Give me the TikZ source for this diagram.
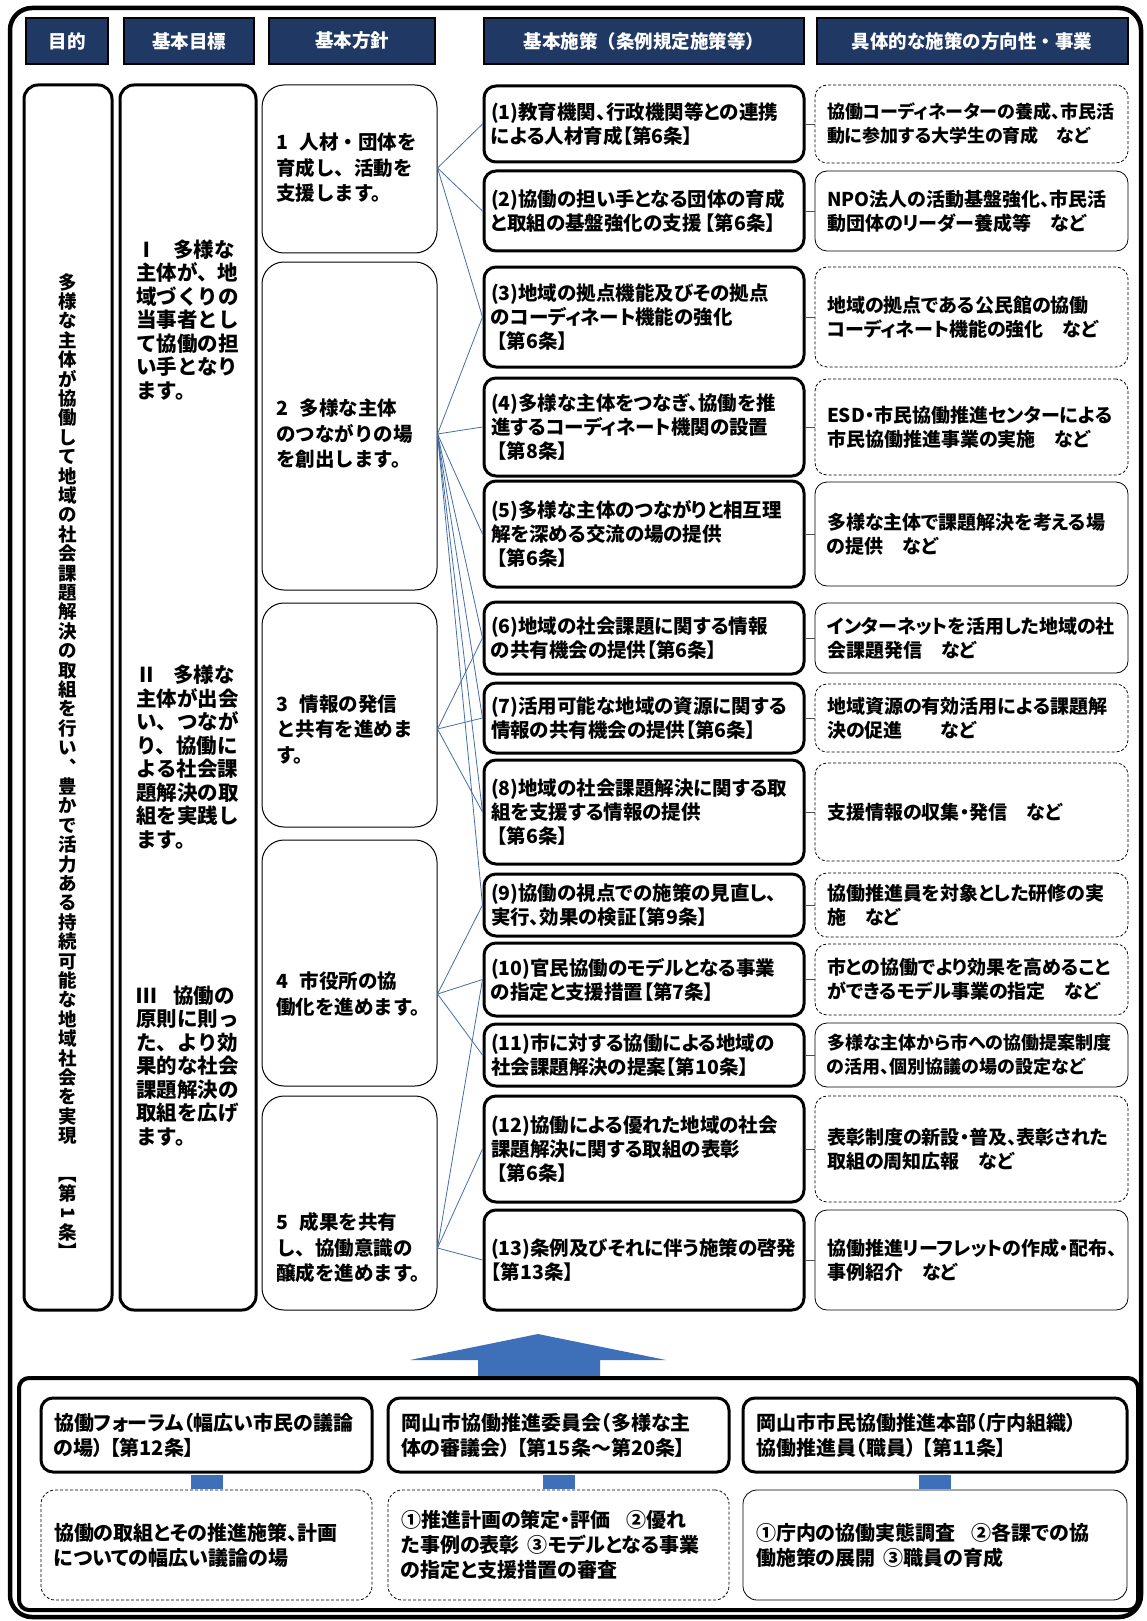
\documentclass[tikz,border=0pt]{standalone}
\usepackage{fontspec}
\setmainfont{Noto Sans CJK JP}[RawFeature=+palt]
\newfontfamily\fullwidth{Noto Sans CJK JP}
\usepackage{graphicx}
\definecolor{navy}{RGB}{31,56,100}
\definecolor{linkblue}{RGB}{66,110,165}
\definecolor{arrowblue}{RGB}{62,112,185}

\begin{document}
\begin{tikzpicture}[x=1pt, y=-1pt,
  every node/.style={inner sep=0pt, font=\bfseries\fontsize{19.5}{24}\selectfont},
  headbox/.style={draw=black, line width=2pt, fill=navy, text=white, minimum height=46pt, font=\fullwidth\bfseries\fontsize{18.5}{20}\selectfont},
  colbox/.style={draw, line width=3pt, rounded corners=14pt, minimum height=1225pt},
  goaltext/.style={anchor=west, align=left, font=\fullwidth\bfseries\fontsize{20.5}{23.5}\selectfont},
  policybox/.style={draw, line width=1pt, rounded corners=22pt, minimum width=175pt},
  policytext/.style={anchor=west, align=left, font=\fullwidth\bfseries\fontsize{19.5}{25.5}\selectfont},
  mbox/.style={draw, line width=3pt, rounded corners=12pt, text width=306pt, inner xsep=7pt, align=left},
  rbox/.style={draw, line width=0.8pt, rounded corners=12pt, text width=289pt, inner xsep=12pt, align=left, font=\bfseries\fontsize{19}{24}\selectfont},
  rdash/.style={rbox, dash pattern=on 3pt off 2pt},
  narrow/.style={font=\bfseries\fontsize{18}{24}\selectfont},
  councilbox/.style={draw, line width=3pt, rounded corners=12pt, minimum height=74pt, inner xsep=13pt, align=left, font=\bfseries\fontsize{20}{25}\selectfont},
  rolebox/.style={draw, line width=0.8pt, rounded corners=14pt, minimum height=110pt, inner xsep=13pt, align=left, font=\bfseries\fontsize{20}{25}\selectfont},
  link/.style={linkblue, line width=0.8pt},
  stub/.style={black!70, line width=0.8pt},
  joint/.style={arrowblue, line width=32pt},
]
\useasboundingbox (0,0) rectangle (1147,1621);

% outer frame
\draw [line width=4.5pt, rounded corners=22pt] (10,8) rectangle (1141,1617);

% header row
\node [headbox, minimum width=82pt] (hpurpose) at (67,41) {目的};
\node [headbox, minimum width=130pt] (hgoal) at (189,41) {基本目標};
\node [headbox, minimum width=166pt] (hpolicy) at (352,41) {基本方針};
\node [headbox, minimum width=320pt] (hmeasure) at (644,41) {基本施策（条例規定施策等）};
\node [headbox, minimum width=311pt] (hproject) at (972,41) {具体的な施策の方向性・事業};

% purpose and goals
\node [colbox, minimum width=88pt] (purpose) at (68,697.5) {};
\node [colbox, minimum width=136pt] (goal) at (188,697.5) {};

\node [font=\fullwidth\bfseries\fontsize{18.5}{19.4}\selectfont, align=center] (purposetext) at (68,766)
  {多\\様\\な\\主\\体\\が\\協\\働\\し\\て\\地\\域\\の\\社\\会\\課\\題\\解\\決\\の\\取\\組\\を\\行\\い\\︑\\豊\\か\\で\\活\\力\\あ\\る\\持\\続\\可\\能\\な\\地\\域\\社\\会\\を\\実\\現\\[19pt]︻\\第\\\rotatebox[origin=c]{-90}{1}\\条\\︼};

\node [goaltext] (goal1) at (136,320) {Ⅰ\hspace{0.8em}多様な\\主体が、地\\域づくりの\\当事者とし\\て協働の担\\い手となり\\ます。};
\node [goaltext] (goal2) at (136,757) {Ⅱ\hspace{0.8em}多様な\\主体が出会\\い、つなが\\り、協働に\\よる社会課\\題解決の取\\組を実践し\\ます。};
\node [goaltext] (goal3) at (136,1066) {Ⅲ\hspace{0.8em}協働の\\原則に則っ\\た、より効\\果的な社会\\課題解決の\\取組を広げ\\ます。};

% basic policies
\node [policybox, minimum height=168pt] (p1) at (349.5,169) {};
\node [policybox, minimum height=328pt] (p2) at (349.5,426) {};
\node [policybox, minimum height=224pt] (p3) at (349.5,715) {};
\node [policybox, minimum height=246pt] (p4) at (349.5,963) {};
\node [policybox, minimum height=214pt] (p5) at (349.5,1203) {};

\node [policytext] (p1text) at (276,168) {1\hspace{0.6em}人材・団体を\\育成し、活動を\\支援します。};
\node [policytext] (p2text) at (276,434) {2\hspace{0.6em}多様な主体\\のつながりの場\\を創出します。};
\node [policytext] (p3text) at (276,729) {3\hspace{0.6em}情報の発信\\と共有を進めま\\す。};
\node [policytext] (p4text) at (276,994) {4\hspace{0.6em}市役所の協\\働化を進めます。};
\node [policytext] (p5text) at (276,1248) {5\hspace{0.6em}成果を共有\\し、協働意識の\\醸成を進めます。};

% basic measures
\node [mbox, minimum height=76pt] (m1) at (644,124) {(1)教育機関、行政機関等との連携\\による人材育成【第6条】};
\node [mbox, minimum height=80pt] (m2) at (644,211) {(2)協働の担い手となる団体の育成\\と取組の基盤強化の支援\,【第6条】};
\node [mbox, minimum height=100pt] (m3) at (644,317) {(3)地域の拠点機能及びその拠点\\のコーディネート機能の強化\\\hspace{6pt}【第6条】};
\node [mbox, minimum height=98pt] (m4) at (644,427) {(4)多様な主体をつなぎ、協働を推\\進するコーディネート機関の設置\\\hspace{6pt}【第8条】};
\node [mbox, minimum height=106pt] (m5) at (644,534) {(5)多様な主体のつながりと相互理\\解を深める交流の場の提供\\\hspace{6pt}【第6条】};
\node [mbox, minimum height=72pt] (m6) at (644,638) {(6)地域の社会課題に関する情報\\の共有機会の提供【第6条】};
\node [mbox, minimum height=70pt] (m7) at (644,718) {(7)活用可能な地域の資源に関する\\情報の共有機会の提供【第6条】};
\node [mbox, minimum height=104pt] (m8) at (644,812) {(8)地域の社会課題解決に関する取\\組を支援する情報の提供\\\hspace{6pt}【第6条】};
\node [mbox, minimum height=62pt] (m9) at (644,905) {(9)協働の視点での施策の見直し、\\実行、効果の検証【第9条】};
\node [mbox, minimum height=73pt] (m10) at (644,979.5) {(10)官民協働のモデルとなる事業\\の指定と支援措置【第7条】};
\node [mbox, minimum height=62pt] (m11) at (644,1055) {(11)市に対する協働による地域の\\社会課題解決の提案【第10条】};
\node [mbox, minimum height=106pt] (m12) at (644,1149) {(12)協働による優れた地域の社会\\課題解決に関する取組の表彰\\\hspace{6pt}【第6条】};
\node [mbox, minimum height=100pt] (m13) at (644,1260) {(13)条例及びそれに伴う施策の啓発\\【第13条】};

% concrete projects
\node [rdash, narrow, minimum height=78pt] (r1) at (971.5,124) {協働コーディネーターの養成、市民活\\動に参加する大学生の育成\hspace{1em}など};
\node [rbox, minimum height=80pt] (r2) at (971.5,211) {NPO法人の活動基盤強化、市民活\\動団体のリーダー養成等\hspace{1em}など};
\node [rdash, minimum height=100pt] (r3) at (971.5,317) {地域の拠点である公民館の協働\\コーディネート機能の強化\hspace{1em}など};
\node [rdash, minimum height=96pt] (r4) at (971.5,427) {ESD・市民協働推進センターによる\\市民協働推進事業の実施\hspace{1em}など};
\node [rbox, minimum height=104pt] (r5) at (971.5,534) {多様な主体で課題解決を考える場\\の提供\hspace{1em}など};
\node [rbox, minimum height=70pt] (r6) at (971.5,638) {インターネットを活用した地域の社\\会課題発信\hspace{1em}など};
\node [rdash, minimum height=68pt] (r7) at (971.5,718) {地域資源の有効活用による課題解\\決の促進\hspace{2em}など};
\node [rdash, minimum height=98pt] (r8) at (971.5,812) {支援情報の収集・発信\hspace{1em}など};
\node [rdash, minimum height=64pt] (r9) at (971.5,905) {協働推進員を対象とした研修の実\\施\hspace{1em}など};
\node [rdash, minimum height=71pt] (r10) at (971.5,979.5) {市との協働でより効果を高めること\\ができるモデル事業の指定\hspace{1em}など};
\node [rbox, narrow, minimum height=64pt] (r11) at (971.5,1055) {多様な主体から市への協働提案制度\\の活用、個別協議の場の設定など};
\node [rdash, minimum height=106pt] (r12) at (971.5,1149) {表彰制度の新設・普及、表彰された\\取組の周知広報\hspace{1em}など};
\node [rbox, minimum height=100pt] (r13) at (971.5,1260) {協働推進リーフレットの作成・配布、\\事例紹介\hspace{1em}など};

% policy -> measure links
\draw [link] (p1.east |- p1text) -- (m1.west);
\draw [link] (p1.east |- p1text) -- (m2.west);
\draw [link] (p1.east |- p1text) -- (m3.west);
\draw [link] (p2.east |- p2text) -- (m3.west);
\draw [link] (p2.east |- p2text) -- (m4.west);
\draw [link] (p2.east |- p2text) -- (m5.west);
\draw [link] (p2.east |- p2text) -- (m6.west);
\draw [link] (p2.east |- p2text) -- (m7.west);
\draw [link] (p2.east |- p2text) -- (m8.west);
\draw [link] (p2.east |- p2text) -- (m9.west);
\draw [link] (p3.east |- p3text) -- (m6.west);
\draw [link] (p3.east |- p3text) -- (m7.west);
\draw [link] (p3.east |- p3text) -- (m8.west);
\draw [link] (p4.east |- p4text) -- (m9.west);
\draw [link] (p4.east |- p4text) -- (m10.west);
\draw [link] (p4.east |- p4text) -- (m11.west);
\draw [link] (p5.east |- p5text) -- (m10.west);
\draw [link] (p5.east |- p5text) -- (m12.west);
\draw [link] (p5.east |- p5text) -- (m13.west);

% measure -> project stubs
\draw [stub] (m1) -- (r1);
\draw [stub] (m2) -- (r2);
\draw [stub] (m3) -- (r3);
\draw [stub] (m4) -- (r4);
\draw [stub] (m5) -- (r5);
\draw [stub] (m6) -- (r6);
\draw [stub] (m7) -- (r7);
\draw [stub] (m8) -- (r8);
\draw [stub] (m9) -- (r9);
\draw [stub] (m10) -- (r10);
\draw [stub] (m11) -- (r11);
\draw [stub] (m12) -- (r12);
\draw [stub] (m13) -- (r13);

% big arrow up from the councils
\fill [arrowblue] (478,1378) -- (478,1360) -- (410,1360) -- (538,1334) -- (666,1360) -- (600,1360) -- (600,1378) -- cycle;

% councils
\node [draw, line width=4pt, rounded corners=10pt, minimum width=1119pt, minimum height=232pt] (council) at (578.5,1494) {};

\node [councilbox, text width=305pt] (b1) at (206.5,1435) {協働フォーラム（幅広い市民の議論\\の場）\hspace{6pt}【第12条】};
\node [councilbox, text width=315pt] (b2) at (558.5,1435) {岡山市協働推進委員会（多様な主\\体の審議会）\hspace{6pt}【第15条～第20条】};
\node [councilbox, text width=358pt] (b3) at (935,1435) {岡山市市民協働推進本部（庁内組織）\\協働推進員（職員）\hspace{6pt}【第11条】};

\node [rolebox, dash pattern=on 3pt off 2pt, text width=305pt] (l1) at (206.5,1545) {協働の取組とその推進施策、計画\\についての幅広い議論の場};
\node [rolebox, dash pattern=on 3pt off 2pt, text width=315pt] (l2) at (558.5,1545) {①推進計画の策定・評価\hspace{0.8em}②優れ\\た事例の表彰\hspace{0.4em}③モデルとなる事業\\の指定と支援措置の審査};
\node [rolebox, text width=358pt] (l3) at (935,1545) {①庁内の協働実態調査\hspace{0.8em}②各課での協\\働施策の展開\hspace{0.4em}③職員の育成};

\draw [joint, shorten <=1.5pt, shorten >=0.4pt] (b1.south) -- (l1.north);
\draw [joint, shorten <=1.5pt, shorten >=0.4pt] (b2.south) -- (l2.north);
\draw [joint, shorten <=1.5pt, shorten >=0.4pt] (b3.south) -- (l3.north);

\end{tikzpicture}
\end{document}
